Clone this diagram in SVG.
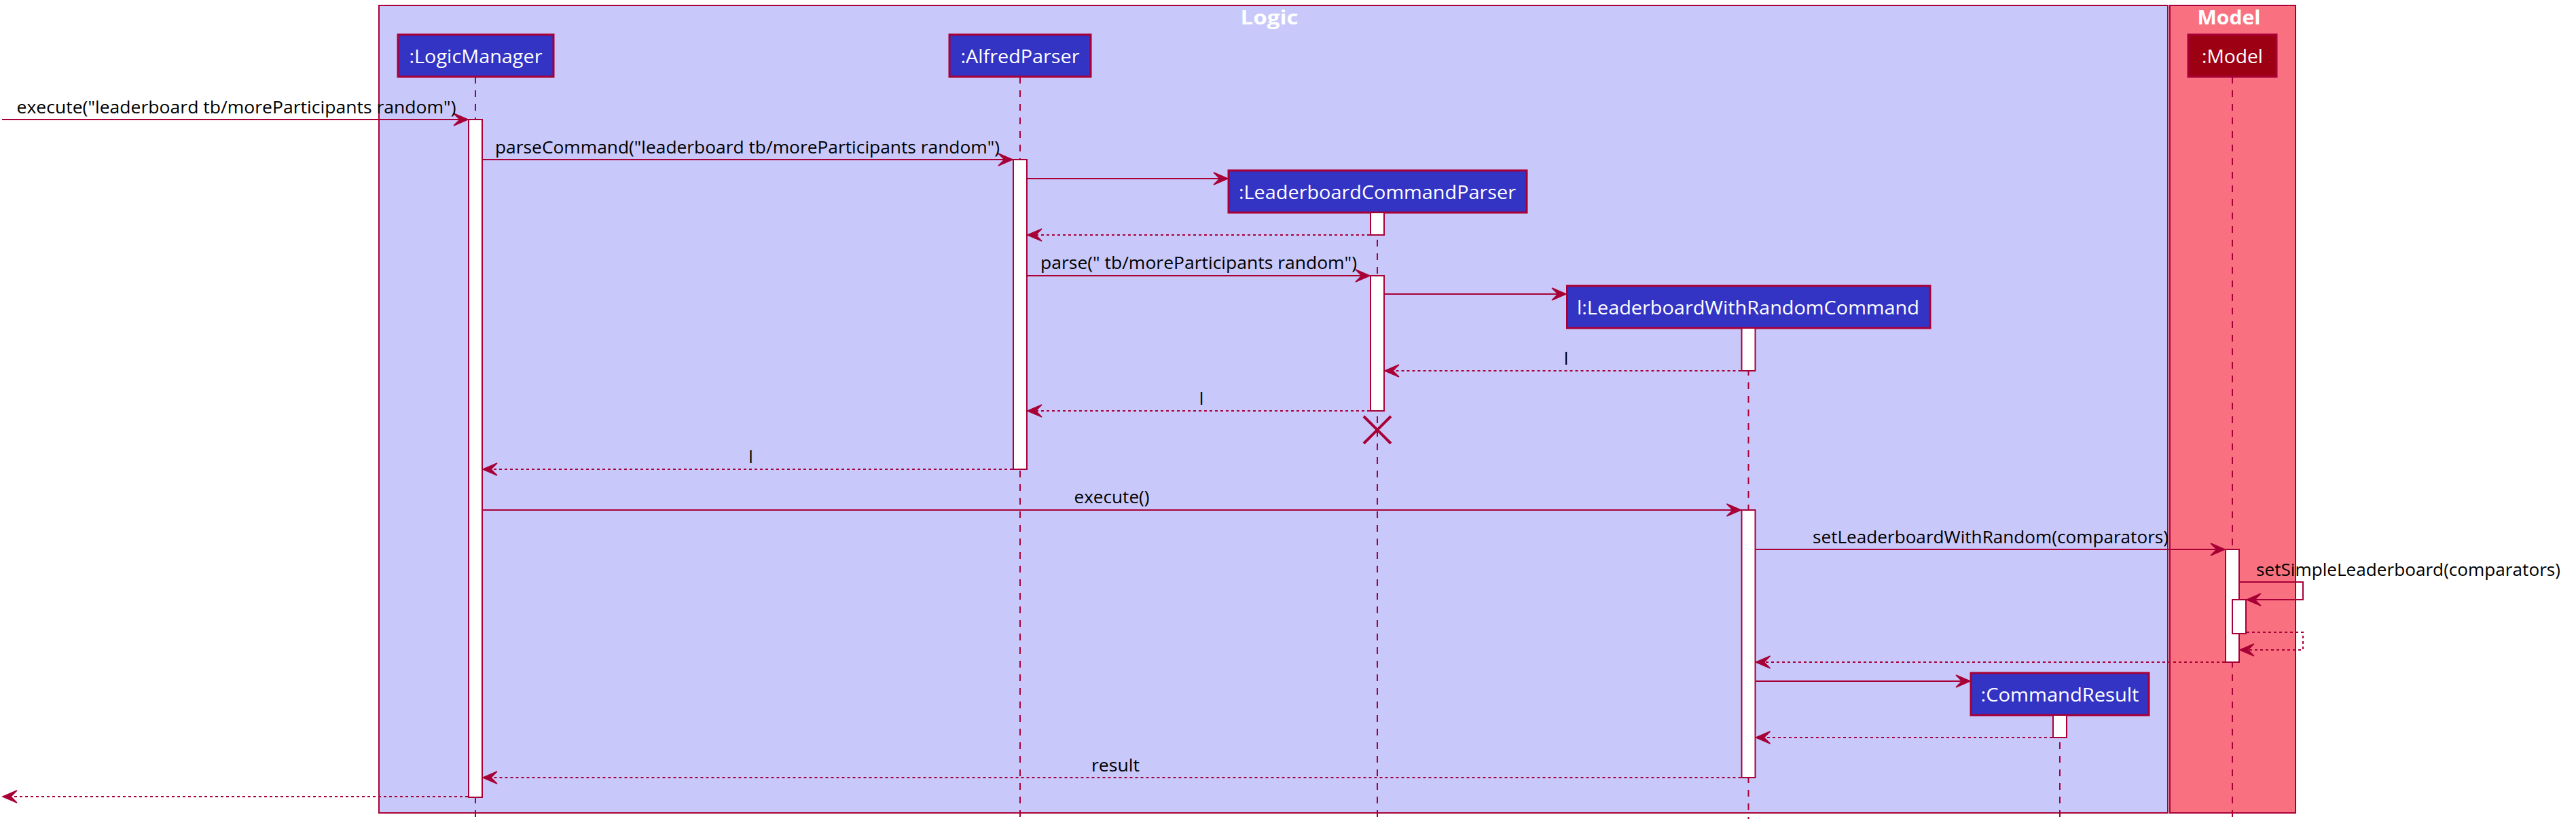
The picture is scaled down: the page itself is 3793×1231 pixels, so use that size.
<svg xmlns="http://www.w3.org/2000/svg" width="3793" height="1231" viewBox="0 0 3793 1231">
<style>
.box{stroke:#A80036;stroke-width:2}
.boxtitle{font-family:"Open Sans","DejaVu Sans",sans-serif;font-size:29px;font-weight:bold;fill:#FFFFFF;text-anchor:middle}
.life{stroke:#A80036;stroke-width:2;stroke-dasharray:10,10;fill:none}
.head{fill:#3333C4;stroke:#A80036;stroke-width:3}
.headm{fill:#9D0012;stroke:#A80036;stroke-width:3}
.htext{font-family:"Open Sans","DejaVu Sans",sans-serif;font-size:28px;fill:#FFFFFF;text-anchor:middle}
.act{fill:#FFFFFF;stroke:#A80036;stroke-width:2}
.msg{stroke:#A80036;stroke-width:2;fill:none;marker-end:url(#arr)}
.ret{stroke:#A80036;stroke-width:2;fill:none;stroke-dasharray:4,4;marker-end:url(#arr)}
.lbl{font-family:"Open Sans","DejaVu Sans",sans-serif;font-size:26px;fill:#000000}
.mid{text-anchor:middle}
.x{stroke:#A80036;stroke-width:4}
</style>
<defs>
<marker id="arr" markerUnits="userSpaceOnUse" viewBox="-24 -12 26 24" markerWidth="26" markerHeight="24" refX="0" refY="0" orient="auto">
<path d="M0,0 L-21,-9 L-12,0 L-21,9 Z" fill="#A80036" stroke="#A80036" stroke-width="1.5" stroke-linejoin="miter"/>
</marker>
</defs>
<rect width="3793" height="1231" fill="#FFFFFF"/>
<g id="box-logic">
<rect class="box" x="558" y="8" width="2634" height="1189" fill="#C8C8FA"/>
<text class="boxtitle" x="1869" y="36" textLength="85" lengthAdjust="spacingAndGlyphs">Logic</text>
</g>
<g id="box-model">
<rect class="box" x="3195" y="8" width="185" height="1189" fill="#F97181"/>
<text class="boxtitle" x="3282" y="36" textLength="93" lengthAdjust="spacingAndGlyphs">Model</text>
</g>
<g id="lifelines">
<line class="life" x1="700" y1="113" x2="700" y2="1206"/>
<line class="life" x1="1502" y1="113" x2="1502" y2="1206"/>
<line class="life" x1="2028" y1="313" x2="2028" y2="1206"/>
<line class="life" x1="2574.5" y1="483" x2="2574.5" y2="1206"/>
<line class="life" x1="3033" y1="1053" x2="3033" y2="1206"/>
<line class="life" x1="3287" y1="113" x2="3287" y2="1206"/>
</g>
<g id="LogicManager">
<rect class="head" x="586" y="51" width="229" height="62"/>
<text class="htext" x="700.5" y="92.5" textLength="196" lengthAdjust="spacingAndGlyphs">:LogicManager</text>
<rect class="act" x="690" y="176" width="20" height="998"/>
</g>
<g id="AlfredParser">
<rect class="head" x="1398" y="51" width="208" height="62"/>
<text class="htext" x="1502" y="92.5" textLength="175" lengthAdjust="spacingAndGlyphs">:AlfredParser</text>
<rect class="act" x="1492" y="235" width="20" height="456"/>
</g>
<g id="LeaderboardCommandParser">
<rect class="head" x="1809" y="251" width="439" height="62"/>
<text class="htext" x="2028" y="292.5" textLength="408" lengthAdjust="spacingAndGlyphs">:LeaderboardCommandParser</text>
<rect class="act" x="2018" y="313" width="20" height="33"/>
<rect class="act" x="2018" y="406" width="20" height="199"/>
<line class="x" x1="2008" y1="613" x2="2048" y2="653"/>
<line class="x" x1="2008" y1="653" x2="2048" y2="613"/>
</g>
<g id="LeaderboardWithRandomCommand">
<rect class="head" x="2307.5" y="421" width="534.5" height="62"/>
<text class="htext" x="2574" y="462.5" textLength="504" lengthAdjust="spacingAndGlyphs">l:LeaderboardWithRandomCommand</text>
<rect class="act" x="2564.5" y="483" width="20" height="63"/>
<rect class="act" x="2564.5" y="751" width="20" height="394"/>
</g>
<g id="CommandResult">
<rect class="head" x="2902" y="991" width="262" height="62"/>
<text class="htext" x="3033" y="1032.5" textLength="233" lengthAdjust="spacingAndGlyphs">:CommandResult</text>
<rect class="act" x="3023" y="1053" width="20" height="33"/>
</g>
<g id="Model">
<rect class="headm" x="3222" y="51" width="130" height="62"/>
<text class="htext" x="3287" y="92.5" textLength="90" lengthAdjust="spacingAndGlyphs">:Model</text>
<rect class="act" x="3277" y="809" width="20" height="166"/>
<rect class="act" x="3287" y="883" width="20" height="50"/>
</g>
<g id="connectors">
<line class="msg" x1="3" y1="176" x2="689" y2="176"/>
<line class="msg" x1="711" y1="235" x2="1491" y2="235"/>
<line class="msg" x1="1513" y1="263" x2="1808" y2="263"/>
<line class="ret" x1="2017" y1="346" x2="1513" y2="346"/>
<line class="msg" x1="1513" y1="406" x2="2017" y2="406"/>
<line class="msg" x1="2039" y1="433" x2="2306" y2="433"/>
<line class="ret" x1="2563.5" y1="546" x2="2039" y2="546"/>
<line class="ret" x1="2017" y1="605" x2="1513" y2="605"/>
<line class="ret" x1="1491" y1="691" x2="711" y2="691"/>
<line class="msg" x1="711" y1="751" x2="2563.5" y2="751"/>
<line class="msg" x1="2585.5" y1="809" x2="3276" y2="809"/>
<polyline class="msg" points="3298,857 3391,857 3391,883 3308,883"/>
<polyline class="ret" points="3308,931 3391,931 3391,957 3298,957"/>
<line class="ret" x1="3276" y1="975" x2="2585.5" y2="975"/>
<line class="msg" x1="2585.5" y1="1003" x2="2901" y2="1003"/>
<line class="ret" x1="3022" y1="1086" x2="2585.5" y2="1086"/>
<line class="ret" x1="2563.5" y1="1145" x2="711" y2="1145"/>
<line class="ret" x1="689" y1="1173" x2="4" y2="1173"/>
</g>
<g id="labels">
<text class="lbl" x="24.5" y="166.5" textLength="647" lengthAdjust="spacingAndGlyphs">execute("leaderboard tb/moreParticipants random")</text>
<text class="lbl" x="729" y="225.5" textLength="743" lengthAdjust="spacingAndGlyphs">parseCommand("leaderboard tb/moreParticipants random")</text>
<text class="lbl" x="1532" y="396" textLength="466" lengthAdjust="spacingAndGlyphs">parse(" tb/moreParticipants random")</text>
<text class="lbl mid" x="2306" y="536.5">l</text>
<text class="lbl mid" x="1769" y="595.5">l</text>
<text class="lbl mid" x="1105.5" y="681.5">l</text>
<text class="lbl mid" x="1637" y="741" textLength="111" lengthAdjust="spacingAndGlyphs">execute()</text>
<text class="lbl" x="2669" y="800" textLength="524" lengthAdjust="spacingAndGlyphs">setLeaderboardWithRandom(comparators)</text>
<text class="lbl" x="3322" y="847.5" textLength="448" lengthAdjust="spacingAndGlyphs">setSimpleLeaderboard(comparators)</text>
<text class="lbl mid" x="1642.5" y="1135.5" textLength="71" lengthAdjust="spacingAndGlyphs">result</text>
</g>
</svg>
